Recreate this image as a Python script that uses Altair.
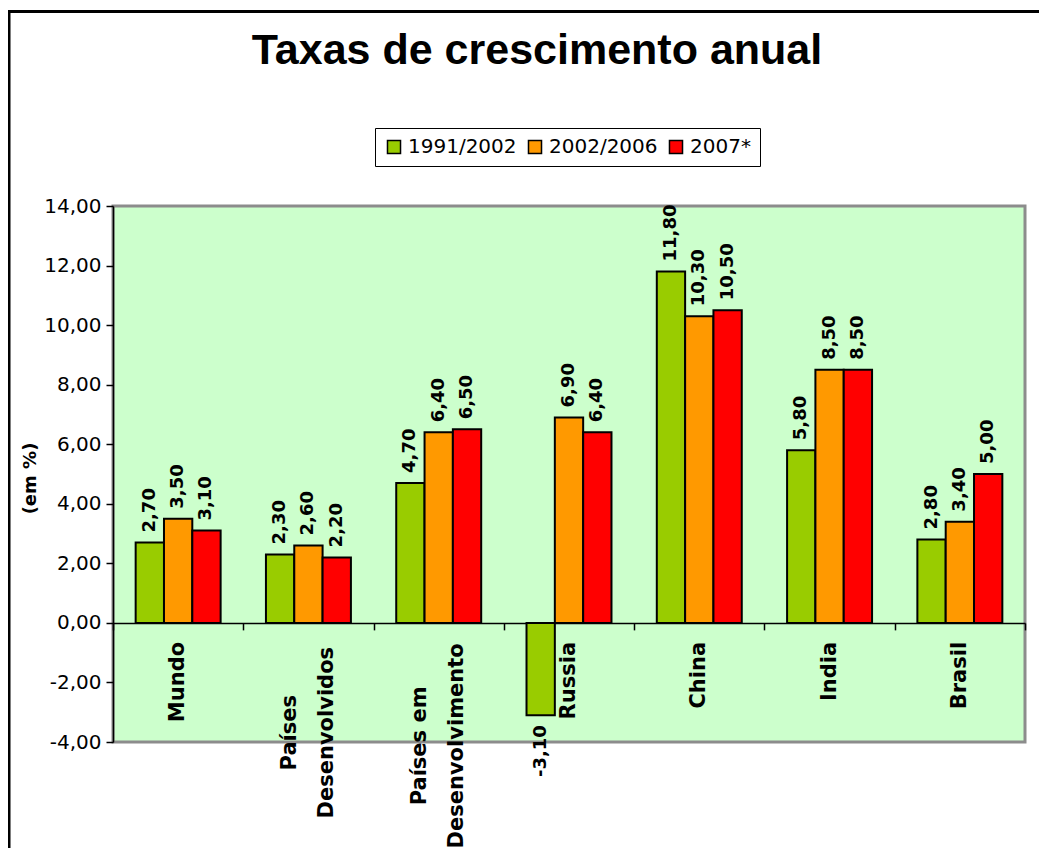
import altair as alt
import pandas as pd

categories = ["Mundo", "Países Desenvolvidos", "Países em Desenvolvimento",
              "Russia", "China", "India", "Brasil"]
cat_labels = ["Mundo", "Países\nDesenvolvidos", "Países em\nDesenvolvimento",
              "Russia", "China", "India", "Brasil"]
series = ["1991/2002", "2002/2006", "2007*"]
v_1991_2002 = [2.70, 2.30, 4.70, -3.10, 11.80, 5.80, 2.80]
v_2002_2006 = [3.50, 2.60, 6.40, 6.90, 10.30, 8.50, 3.40]
v_2007 = [3.10, 2.20, 6.50, 6.40, 10.50, 8.50, 5.00]
colors = ["#99CC00", "#FF9900", "#FF0000"]
y_ticks = [-4, -2, 0, 2, 4, 6, 8, 10, 12, 14]
title_text = "Taxas de crescimento anual"

rows = []
for s, vals in zip(series, [v_1991_2002, v_2002_2006, v_2007]):
    for c, v in zip(categories, vals):
        rows.append({"cat": c, "serie": s, "valor": v})
df = pd.DataFrame(rows)
df_cat = pd.DataFrame({"cat": categories, "label": cat_labels})

W, H = 912, 536
FONT = "DejaVu Sans"
FMT = "replace(replace(format({v}, '.2f'), '.', ','), '\u2212', '-')"

x_enc = alt.X("cat:N", sort=categories,
              scale=alt.Scale(paddingInner=0, paddingOuter=0),
              axis=alt.Axis(labels=False, title=None, tickBand="extent",
                            domainColor="black", domainWidth=1.5,
                            tickColor="black", tickSize=7, tickWidth=1.5,
                            offset=-(H * 4 / 18)))
xo_enc = alt.XOffset("serie:N", sort=series,
                     scale=alt.Scale(paddingInner=0, paddingOuter=0.8))
y_enc = alt.Y("valor:Q",
              scale=alt.Scale(domain=[-4, 14], nice=False),
              axis=alt.Axis(values=y_ticks, grid=False,
                            labelExpr=FMT.format(v="datum.value"),
                            labelFont=FONT, labelFontSize=20, labelColor="black",
                            labelPadding=5, tickColor="black", tickSize=7,
                            tickWidth=1.5, domainColor="black", domainWidth=1.5,
                            title="(em %)", titleFont=FONT, titleFontSize=18,
                            titleFontWeight="bold", titleColor="black",
                            titleAngle=270, titleAlign="center",
                            titleBaseline="middle", titleX=-83, titleY=272))

bars = alt.Chart(df).mark_bar(stroke="black", strokeWidth=2).encode(
    x=x_enc, xOffset=xo_enc, y=y_enc,
    color=alt.Color("serie:N", sort=series,
                    scale=alt.Scale(domain=series, range=colors),
                    legend=alt.Legend(title=None))
)


def value_labels(cond, align, dx):
    return alt.Chart(df).transform_filter(cond).transform_calculate(
        lbl=FMT.format(v="datum.valor")
    ).mark_text(
        angle=270, align=align, baseline="middle", dx=dx,
        font=FONT, fontSize=18, fontWeight="bold", color="black"
    ).encode(
        x=alt.X("cat:N", sort=categories),
        xOffset=alt.XOffset("serie:N", sort=series),
        y="valor:Q",
        text=alt.Text("lbl:N")
    )


pos_labels = value_labels("datum.valor >= 0", "left", 10)
neg_labels = value_labels("datum.valor < 0", "right", -10)

# single-line category labels
single = df_cat[~df_cat["label"].str.contains("\n")]
cat_single = alt.Chart(single).mark_text(
    angle=270, align="right", baseline="middle", dx=-19,
    font=FONT, fontSize=21, fontWeight="bold", color="black"
).encode(x=alt.X("cat:N", sort=categories), y=alt.datum(0), text="label:N")

# multi-line category labels: lines centred on each other
cat_layers = [cat_single]
for _, r in df_cat[df_cat["label"].str.contains("\n")].iterrows():
    longest = max(len(t) for t in r["label"].split("\n"))
    est = longest * 13.2
    cat_layers.append(
        alt.Chart(pd.DataFrame([r])).mark_text(
            angle=270, align="center", baseline="middle",
            dx=-(24 + est / 2), dy=-18.5, lineBreak="\n", lineHeight=37,
            font=FONT, fontSize=21, fontWeight="bold", color="black"
        ).encode(x=alt.X("cat:N", sort=categories), y=alt.datum(0), text="label:N")
    )

one = pd.DataFrame({"t": [title_text]})
frame = alt.Chart(one).mark_rect(
    fill=None, stroke="black", strokeWidth=3
).encode(
    x=alt.value(-104), x2=alt.value(1000), y=alt.value(-194.5), y2=alt.value(700)
)
title = alt.Chart(one).mark_text(
    font="Liberation Sans", fontSize=43, fontWeight="bold", color="black",
    align="center", baseline="alphabetic"
).encode(x=alt.value(424), y=alt.value(-142), text="t:N")

chart = alt.layer(bars, pos_labels, neg_labels, *cat_layers, frame, title).properties(
    width=W, height=H,
    autosize=alt.AutoSizeParams(type="none"),
    padding={"left": 105, "top": 198, "right": 14, "bottom": 106},
).configure(background="white").configure_view(
    fill="#CCFFCC", stroke="#8c8c8c", strokeWidth=3
).configure_legend(
    orient="none", legendX=262, legendY=-78, direction="horizontal",
    strokeColor="black", fillColor="white", padding=9,
    symbolType="square", symbolSize=170, symbolStrokeColor="black",
    symbolStrokeWidth=1.5, labelFont=FONT, labelFontSize=20,
    labelColor="black", columnPadding=8, labelOffset=4
)

chart.save("out.html", embed_options={"renderer": "svg", "actions": False})
